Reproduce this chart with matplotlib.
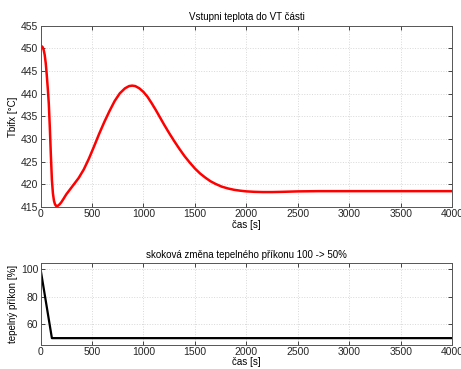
import matplotlib
matplotlib.use('Agg')
import matplotlib.pyplot as plt

plt.rcParams['font.family'] = ['Liberation Sans', 'DejaVu Sans']

# vstupni teplota do VT casti
cas_T = [0, 10, 20, 30, 40, 50, 60, 70, 80, 90, 100, 110, 120, 130, 140, 150,
         160, 170, 185, 200, 220, 250, 280, 320, 370, 420, 470, 520, 570, 620,
         670, 720, 770, 820, 860, 890, 920, 960, 1000, 1040, 1080, 1120, 1160,
         1200, 1250, 1300, 1350, 1400, 1450, 1500, 1550, 1600, 1650, 1700,
         1760, 1820, 1880, 1940, 2000, 2080, 2160, 2250, 2350, 2500, 2700,
         3000, 4000]
teplota = [450.5, 450.5, 450.3, 449.7, 448.6, 446.8, 444.2, 441.2, 437.8,
           432.5, 426.5, 421.0, 418.0, 416.4, 415.6, 415.25, 415.2, 415.3,
           415.6, 416.0, 416.7, 417.8, 418.7, 419.9, 421.4, 423.3, 425.7,
           428.4, 431.2, 433.8, 436.2, 438.4, 440.1, 441.2, 441.7, 441.8,
           441.7, 441.2, 440.4, 439.3, 437.9, 436.4, 434.8, 433.2, 431.3,
           429.5, 427.8, 426.2, 424.8, 423.5, 422.4, 421.5, 420.7, 420.1,
           419.5, 419.1, 418.8, 418.6, 418.45, 418.35, 418.3, 418.3, 418.35,
           418.45, 418.5, 418.5, 418.5]

# skokova zmena prikonu
cas_P = [0, 110, 4000]
prikon = [100, 50, 50]

fig = plt.figure(figsize=(4.61, 3.69), dpi=100)
ax1 = fig.add_axes([0.088, 0.439, 0.893, 0.491])
ax2 = fig.add_axes([0.088, 0.065, 0.893, 0.222])

ax1.plot(cas_T, teplota, color='red', lw=1.8)
ax1.set_xlim(0, 4000)
ax1.set_ylim(415, 455)
ax1.set_yticks(range(415, 456, 5))
ax1.set_title('Vstupni teplota do VT části', fontsize=7, pad=4)
ax1.set_ylabel('Tbifx [°C]', fontsize=7, labelpad=2)
ax1.set_xlabel('čas [s]', fontsize=7, labelpad=1)

ax2.plot(cas_P, prikon, color='black', lw=1.6)
ax2.set_xlim(0, 4000)
ax2.set_ylim(45, 104.5)
ax2.set_yticks([60, 80, 100])
ax2.set_title('skoková změna tepelného příkonu 100 -> 50%', fontsize=7, pad=4)
ax2.set_ylabel('tepelný příkon [%]', fontsize=7, labelpad=2)
ax2.set_xlabel('čas [s]', fontsize=7, labelpad=0)

for ax in (ax1, ax2):
    ax.set_xticks(range(0, 4001, 500))
    ax.grid(True, color='#d8d8d8', linestyle=':', linewidth=0.7)
    ax.tick_params(direction='in', top=True, right=True, labelsize=7.5,
                   length=3, width=0.6, colors='#262626', pad=1.5)
    for s in ax.spines.values():
        s.set_color('#555555')
        s.set_linewidth(0.7)

fig.savefig('out.png', dpi=100)
